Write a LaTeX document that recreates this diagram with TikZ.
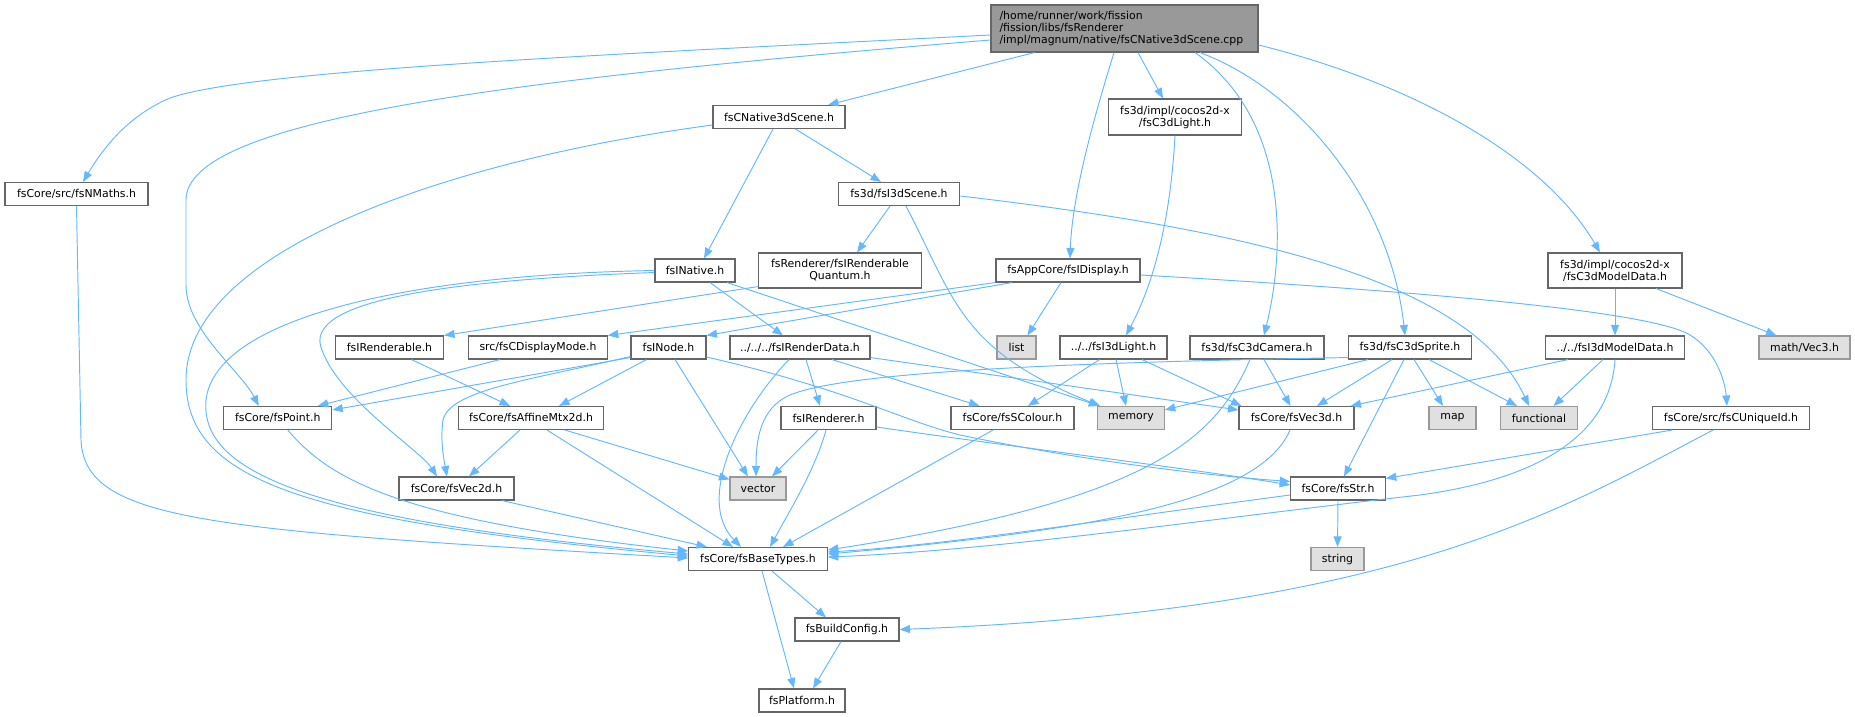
\documentclass[tikz,border=0pt]{standalone}
\usepackage{fontspec}
\setmainfont{DejaVu Sans}
\usetikzlibrary{arrows.meta}
\definecolor{edgec}{HTML}{63B8FF}
\definecolor{bordc}{HTML}{666666}
\definecolor{sysfill}{HTML}{E0E0E0}
\definecolor{sysbord}{HTML}{999999}
\definecolor{rootfill}{HTML}{999999}
\begin{document}
\begin{tikzpicture}[x=1pt,y=-1pt,
  file/.style={draw=bordc, line width=1.1pt, fill=white, inner sep=0pt, font=\fontsize{10.9}{12}\selectfont, align=center, minimum height=23pt},
  sys/.style={file, fill=sysfill, draw=sysbord},
  rootf/.style={file, fill=rootfill, draw=bordc, align=left},
  dep/.style={draw=edgec, line width=0.95pt, -{Triangle[length=10.5pt,width=8pt]}},
]
\useasboundingbox (0,0) rectangle (1855,717);
% nodes
\node[rootf, minimum width=267pt, minimum height=47pt, text width=250pt] (root) at (1124.5,28.5) {/home/runner/work/fission\\/fission/libs/fsRenderer\\/impl/magnum/native/fsCNative3dScene.cpp};
\node[file, minimum width=143pt] (nmaths) at (76.5,194) {fsCore/src/fsNMaths.h};
\node[file, minimum width=132pt] (cnat) at (779,117) {fsCNative3dScene.h};
\node[file, minimum width=133pt, minimum height=36pt] (light) at (1175,117) {fs3d/impl/cocos2d-x\\/fsC3dLight.h};
\node[file, minimum width=121.5pt] (i3dscene) at (899,194) {fs3d/fsI3dScene.h};
\node[file, minimum width=162.5pt, minimum height=35pt] (quantum) at (840,270.5) {fsRenderer/fsIRenderable\\Quantum.h};
\node[file, minimum width=80pt] (inative) at (695,270.5) {fsINative.h};
\node[file, minimum width=144pt] (display) at (1068,270.5) {fsAppCore/fsIDisplay.h};
\node[file, minimum width=134pt, minimum height=35pt] (modeldata) at (1615,270.5) {fs3d/impl/cocos2d-x\\/fsC3dModelData.h};
\node[file, minimum width=108pt] (renderable) at (389.5,347.5) {fsIRenderable.h};
\node[file, minimum width=138.5pt] (dispmode) at (538,347.5) {src/fsCDisplayMode.h};
\node[file, minimum width=75pt] (inode) at (668.5,347.5) {fsINode.h};
\node[file, minimum width=140pt] (renderdata) at (800,347.5) {../../../fsIRenderData.h};
\node[sys, minimum width=39pt] (list) at (1016.5,347.5) {list};
\node[file, minimum width=107pt] (i3dlight) at (1113.5,347.5) {../../fsI3dLight.h};
\node[file, minimum width=134pt] (camera) at (1257,347.5) {fs3d/fsC3dCamera.h};
\node[file, minimum width=122.5pt] (sprite) at (1410,347.5) {fs3d/fsC3dSprite.h};
\node[file, minimum width=139pt] (i3dmodel) at (1615,347.5) {../../fsI3dModelData.h};
\node[sys, minimum width=91pt] (vec3) at (1804.5,347.5) {math/Vec3.h};
\node[file, minimum width=108pt] (point) at (277.8,418) {fsCore/fsPoint.h};
\node[file, minimum width=145.5pt] (affine) at (531,418) {fsCore/fsAffineMtx2d.h};
\node[file, minimum width=95pt] (irenderer) at (828.5,418) {fsIRenderer.h};
\node[file, minimum width=123pt] (scolour) at (1012.5,418) {fsCore/fsSColour.h};
\node[sys, minimum width=66.5pt] (memory) at (1131,418) {memory};
\node[file, minimum width=115pt] (vec3d) at (1296.5,418) {fsCore/fsVec3d.h};
\node[sys, minimum width=47pt] (map) at (1452.5,418) {map};
\node[sys, minimum width=77.5pt] (functional) at (1539,418) {functional};
\node[file, minimum width=157.5pt] (uniq) at (1731,418) {fsCore/src/fsCUniqueId.h};
\node[file, minimum width=115pt] (vec2d) at (456.5,488.5) {fsCore/fsVec2d.h};
\node[sys, minimum width=56pt] (vector) at (758,488.5) {vector};
\node[file, minimum width=94.5pt] (str) at (1338,488.5) {fsCore/fsStr.h};
\node[file, minimum width=138.5pt] (basetypes) at (758,559) {fsCore/fsBaseTypes.h};
\node[sys, minimum width=53pt] (string) at (1337.5,559) {string};
\node[file, minimum width=104pt] (buildconfig) at (847,629.5) {fsBuildConfig.h};
\node[file, minimum width=86pt] (platform) at (802,700.5) {fsPlatform.h};
% edges from root
\draw[dep] ([yshift=-6.5]root.west) .. controls (600,55) and (250,70) .. (170,98) .. controls (130,115) and (105,145) .. ([xshift=6.5]nmaths.north);
\draw[dep] ([yshift=-11.5]root.west) .. controls (500,80) and (186,120) .. (186,200) -- (186,285) .. controls (186,330) and (240,370) .. ([xshift=-19]point.north);
\draw[dep] ([xshift=-90]root.south) -- ([xshift=49]cnat.north);
\draw[dep] ([xshift=13.5]root.south) -- ([xshift=-12]light.north);
\draw[dep] ([xshift=-10.5]root.south) .. controls (1090,130) and (1072,200) .. ([xshift=2]display.north);
\draw[dep] ([xshift=70.5]root.south) .. controls (1290,120) and (1285,250) .. ([xshift=7]camera.north);
\draw[dep] ([xshift=75.5]root.south) .. controls (1300,90) and (1390,200) .. ([xshift=-5]sprite.north);
\draw[dep] ([yshift=-16.5]root.east) .. controls (1400,80) and (1540,150) .. ([xshift=-15]modeldata.north);
% nmaths, cnat
\draw[dep] (nmaths.south) -- (81,440) .. controls (85,520) and (200,530) .. ([yshift=1]basetypes.west);
\draw[dep] ([yshift=-8]cnat.west) .. controls (450,160) and (186,250) .. (186,380) .. controls (186,480) and (300,520) .. ([yshift=3]basetypes.west);
\draw[dep] ([xshift=-6]cnat.south) -- ([xshift=9]inative.north);
\draw[dep] ([xshift=16.5]cnat.south) -- ([xshift=-18]i3dscene.north);
\draw[dep] (light.south) .. controls (1170,230) and (1150,290) .. ([xshift=12.5]i3dlight.north);
% i3dscene
\draw[dep] ([xshift=-9]i3dscene.south) -- ([xshift=17]quantum.north);
\draw[dep] ([xshift=7]i3dscene.south) .. controls (955,300) and (960,350) .. ([xshift=3]memory.north west);
\draw[dep] ([yshift=-2]i3dscene.east) .. controls (1250,230) and (1470,280) .. ([xshift=-10]functional.north);
% display
\draw[dep] ([xshift=-7]display.south) -- ([xshift=11]list.north);
\draw[dep] ([xshift=-56]display.south) -- (inode.north east);
\draw[dep] (display.south west) -- (dispmode.north east);
\draw[dep] ([yshift=-4.5]display.east) .. controls (1400,290) and (1650,310) .. (1690,335) .. controls (1715,350) and (1725,380) .. ([xshift=-4]uniq.north);
% modeldata
\draw[dep] (modeldata.south) -- (i3dmodel.north);
\draw[dep] ([xshift=41]modeldata.south) -- ([xshift=-28]vec3.north);
% inative
\draw[dep] ([xshift=15]inative.south) -- ([xshift=-17]renderdata.north);
\draw[dep] ([xshift=32]inative.south) -- ([xshift=2]memory.north west);
\draw[dep] ([yshift=-2]inative.west) .. controls (450,280) and (300,300) .. (322,350) .. controls (340,400) and (420,450) .. ([xshift=-19.5]vec2d.north);
\draw[dep] (inative.west) .. controls (400,275) and (215,320) .. (206,400) .. controls (200,470) and (300,520) .. ([yshift=5]basetypes.west);
% quantum, renderable, dispmode
\draw[dep] ([yshift=2]quantum.south west) -- (renderable.north east);
\draw[dep] ([xshift=22]renderable.south) -- ([xshift=-21]affine.north);
\draw[dep] ([xshift=-38]dispmode.south) -- ([xshift=40]point.north);
% inode
\draw[dep] ([yshift=2]inode.south west) -- ([yshift=-4]point.north east);
\draw[dep] ([yshift=3]inode.south west) .. controls (530,380) and (450,390) .. (443,420) .. controls (440,440) and (444,460) .. ([xshift=-9.5]vec2d.north);
\draw[dep] ([xshift=-22]inode.south) -- ([xshift=28]affine.north);
\draw[dep] ([xshift=6.5]inode.south) -- ([xshift=-10]vector.north);
\draw[dep] ([yshift=-9.5]inode.east) .. controls (850,390) and (900,420) .. (960,435) .. controls (1080,460) and (1200,475) .. ([yshift=7]str.west);
% renderdata
\draw[dep] ([xshift=6]renderdata.south) -- ([xshift=-8.5]irenderer.north);
\draw[dep] ([xshift=32]renderdata.south) -- ([xshift=-33]scolour.north);
\draw[dep] ([yshift=2]renderdata.south east) -- ([yshift=-4]vec3d.north west);
\draw[dep] ([xshift=-11]renderdata.south) .. controls (740,410) and (695,500) .. ([xshift=-17]basetypes.north);
% irenderer
\draw[dep] ([xshift=-10.5]irenderer.south) -- ([xshift=14]vector.north);
\draw[dep] ([xshift=-2.5]irenderer.south) .. controls (815,470) and (790,510) .. ([xshift=12]basetypes.north);
\draw[dep] ([yshift=-9]irenderer.east) .. controls (1000,445) and (1200,470) .. ([yshift=3.5]str.west);
% i3dlight
\draw[dep] ([xshift=-14]i3dlight.south) -- ([xshift=15.5]scolour.north);
\draw[dep] ([xshift=2.5]i3dlight.south) -- ([xshift=-5]memory.north);
\draw[dep] ([xshift=28.5]i3dlight.south) -- ([xshift=3]vec3d.north west);
% camera
\draw[dep] ([xshift=7]camera.south) -- ([xshift=-6]vec3d.north);
\draw[dep] ([xshift=-7]camera.south) .. controls (1215,440) and (1150,500) .. ([yshift=9]basetypes.east);
% sprite
\draw[dep] ([yshift=2]sprite.south west) .. controls (1100,362) and (850,370) .. (790,395) .. controls (760,408) and (756,440) .. ([xshift=-2]vector.north);
\draw[dep] ([xshift=-42]sprite.south) -- ([yshift=-4]memory.north east);
\draw[dep] ([xshift=-18]sprite.south) -- ([xshift=20.5]vec3d.north);
\draw[dep] ([xshift=-6]sprite.south) -- ([xshift=6]str.north);
\draw[dep] ([xshift=4]sprite.south) -- ([xshift=-9.5]map.north);
\draw[dep] ([xshift=19]sprite.south) -- ([xshift=-22]functional.north);
% i3dmodel
\draw[dep] ([xshift=-47]i3dmodel.south) -- ([xshift=-4]vec3d.north east);
\draw[dep] ([xshift=-12]i3dmodel.south) -- ([xshift=14.5]functional.north);
\draw[dep] (i3dmodel.south) .. controls (1610,440) and (1530,480) .. (1420,495) .. controls (1200,520) and (1000,550) .. ([yshift=2]basetypes.east);
% affine, point, vec2d
\draw[dep] ([xshift=-11]affine.south) -- ([xshift=12.5]vec2d.north);
\draw[dep] ([xshift=34]affine.south) -- ([yshift=-3]vector.north west);
\draw[dep] ([xshift=16]affine.south) -- ([xshift=-25]basetypes.north);
\draw[dep] ([xshift=10]point.south) .. controls (330,480) and (400,520) .. ([yshift=8]basetypes.west);
\draw[dep] ([xshift=45.5]vec2d.south) -- ([xshift=-51]basetypes.north);
% scolour, vec3d, str, uniq
\draw[dep] ([xshift=-19.5]scolour.south) -- ([xshift=25]basetypes.north);
\draw[dep] ([xshift=-6.5]vec3d.south) .. controls (1260,500) and (1100,530) .. ([yshift=5]basetypes.east);
\draw[dep] ([yshift=-6.5]str.west) .. controls (1100,520) and (950,545) .. ([yshift=7]basetypes.east);
\draw[dep] (str.south) -- (string.north);
\draw[dep] ([xshift=-59]uniq.south) -- ([yshift=-2]str.north east);
\draw[dep] ([xshift=-18]uniq.south) .. controls (1560,510) and (1400,610) .. (buildconfig.east);
% bottom
\draw[dep] ([xshift=14]basetypes.south) -- ([xshift=-21]buildconfig.north);
\draw[dep] ([xshift=4]basetypes.south) -- ([xshift=-8]platform.north);
\draw[dep] ([xshift=-6]buildconfig.south) -- ([xshift=11]platform.north);
\end{tikzpicture}
\end{document}
